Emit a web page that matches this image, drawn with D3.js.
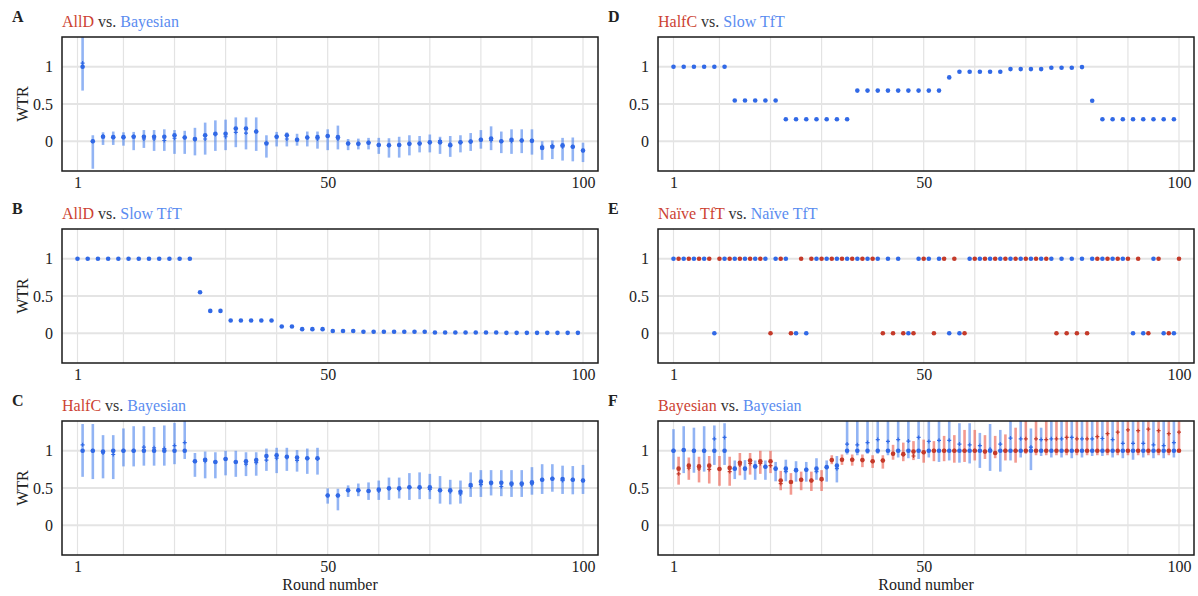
<!DOCTYPE html>
<html>
<head>
<meta charset="utf-8">
<style>
    body { margin: 0; background: #fff; }
    svg text { font-family: "Liberation Serif", "DejaVu Serif", serif; fill: #222; }
</style>
</head>
<body>
<svg id="chart" width="1198" height="596"></svg>
<script src="https://cdn.jsdelivr.net/npm/d3@7/dist/d3.min.js"></script>
<script>
// rounds at which each player is plotted
const oddRounds = [1,3,5,7,9,11,13,15,17,19,21,23,25,27,29,31,33,35,37,39,41,43,45,47,49,
                   51,53,55,57,59,61,63,65,67,69,71,73,75,77,79,81,83,85,87,89,91,93,95,97,99];
const evenRounds = [2,4,6,8,10,12,14,16,18,20,22,24,26,28,30,32,34,36,38,40,42,44,46,48,50,
                    52,54,56,58,60,62,64,66,68,70,72,74,76,78,80,82,84,86,88,90,92,94,96,98,100];

const xTicks = [1, 50, 100];
const xGrid = [1, 10, 20, 30, 40, 50, 60, 70, 80, 90, 100];
const yTicks = [0, 0.5, 1];

// A: AllD vs. Bayesian (Bayesian, even rounds)
const aMid  = [1.0,0.0,0.06,0.055,0.055,0.06,0.06,0.06,0.06,0.08,0.05,0.03,0.08,0.10,0.10,0.17,0.17,0.13,-0.03,0.06,
               0.08,0.02,0.05,0.055,0.07,0.055,-0.03,-0.035,-0.02,-0.05,-0.055,-0.05,-0.035,-0.03,-0.015,-0.015,-0.055,-0.015,-0.005,0.02,
               0.035,0.0,0.02,0.01,0.005,-0.09,-0.075,-0.055,-0.075,-0.125];
const aMean = [1.05,0.0,0.07,0.055,0.055,0.065,0.03,0.03,0.01,0.04,0.05,0.02,0.03,0.09,0.06,0.12,0.11,0.13,-0.02,0.06,
               0.03,0.02,0.05,0.03,0.07,0.03,-0.03,-0.035,-0.02,-0.05,-0.055,-0.05,-0.035,-0.03,-0.015,0.01,-0.04,-0.015,-0.005,0.02,
               0.01,0.0,0.0,0.01,0.005,-0.07,-0.06,-0.075,-0.075,-0.125];
const aLo   = [0.68,-0.37,-0.05,-0.05,-0.06,-0.12,-0.09,-0.13,-0.13,-0.17,-0.17,-0.19,-0.18,-0.13,-0.12,-0.08,-0.11,-0.13,-0.22,-0.07,
               -0.07,-0.06,-0.07,-0.10,-0.12,-0.11,-0.12,-0.11,-0.11,-0.17,-0.22,-0.22,-0.19,-0.15,-0.15,-0.17,-0.21,-0.15,-0.13,-0.10,
               -0.12,-0.16,-0.17,-0.16,-0.18,-0.25,-0.24,-0.26,-0.27,-0.28];
const aHi   = [1.5,0.08,0.12,0.13,0.12,0.125,0.15,0.15,0.16,0.15,0.14,0.18,0.25,0.28,0.29,0.32,0.32,0.32,0.08,0.125,
               0.12,0.10,0.13,0.13,0.16,0.21,0.03,0.035,0.045,0.045,0.04,0.06,0.08,0.07,0.09,0.06,0.07,0.08,0.11,0.15,
               0.20,0.13,0.16,0.16,0.16,0.0,0.01,0.045,0.05,-0.02];

// B: AllD vs. Slow TfT (Slow TfT, odd rounds)
const bMid = [1,1,1,1,1,1,1,1,1,1,1,1,0.55,0.30,0.30,0.17,0.17,0.17,0.17,0.17,
              0.09,0.09,0.055,0.055,0.055,0.03,0.03,0.03,0.02,0.02,0.02,0.02,0.02,0.02,0.02,0.01,0.01,0.01,0.01,0.01,
              0.01,0.01,0.005,0.005,0.005,0.005,0.005,0.005,0.005,0.005];

// C: HalfC vs. Bayesian (Bayesian, even rounds)
const cMid  = [1.0,1.0,0.99,1.0,1.0,1.0,1.0,1.0,1.0,1.0,1.0,0.86,0.88,0.85,0.89,0.85,0.86,0.875,0.93,0.94,
               0.92,0.91,0.90,0.90,0.40,0.40,0.47,0.47,0.46,0.48,0.495,0.495,0.51,0.51,0.51,0.47,0.47,0.45,0.54,0.585,
               0.57,0.57,0.56,0.56,0.575,0.61,0.625,0.62,0.61,0.60];
const cMean = [1.08,1.0,0.97,0.95,1.0,1.0,1.05,1.04,1.03,1.07,1.11,0.86,0.86,0.85,0.89,0.85,0.82,0.84,0.875,0.90,
               0.91,0.87,0.90,0.89,0.40,0.40,0.47,0.47,0.46,0.46,0.495,0.48,0.51,0.50,0.48,0.47,0.45,0.42,0.52,0.545,
               0.56,0.52,0.54,0.54,0.555,0.61,0.625,0.60,0.61,0.60];
const cLo   = [0.65,0.62,0.63,0.62,0.79,0.79,0.80,0.80,0.80,0.82,0.89,0.65,0.63,0.63,0.67,0.65,0.66,0.665,0.73,0.70,
               0.73,0.72,0.69,0.68,0.29,0.20,0.38,0.39,0.34,0.34,0.34,0.36,0.34,0.35,0.35,0.29,0.28,0.29,0.38,0.38,
               0.40,0.39,0.38,0.38,0.41,0.42,0.45,0.42,0.415,0.42];
const cHi   = [1.36,1.36,1.21,1.21,1.30,1.33,1.33,1.32,1.34,1.375,1.45,0.97,0.99,0.98,1.0,1.0,0.98,0.98,1.03,1.04,
               1.04,1.01,1.03,1.04,0.495,0.49,0.535,0.56,0.575,0.60,0.64,0.64,0.70,0.71,0.69,0.66,0.61,0.60,0.71,0.74,
               0.74,0.74,0.74,0.74,0.78,0.82,0.82,0.80,0.795,0.81];

// D: HalfC vs. Slow TfT (Slow TfT, odd rounds)
const dMid = [1,1,1,1,1,1,0.547,0.547,0.547,0.547,0.547,0.296,0.296,0.296,0.296,0.296,0.296,0.296,0.68,0.68,
              0.68,0.68,0.68,0.68,0.68,0.68,0.68,0.857,0.933,0.933,0.933,0.933,0.933,0.969,0.969,0.969,0.969,0.987,0.987,0.987,
              0.996,0.543,0.296,0.296,0.296,0.296,0.296,0.296,0.296,0.296];

// E: Naïve TfT vs. Naïve TfT
const eBlue = [1,1,1,1,0,1,1,1,1,1,1,1,0,0,1,1,1,1,1,1,1,1,1,0,1,1,1,0,0,1,1,1,1,1,1,1,1,1,1,1,1,1,1,1,1,0,0,1,0,0];
const eRed  = [1,1,1,1,1,1,1,1,1,0,1,0,1,1,1,1,1,1,1,1,0,0,0,0,1,0,1,1,0,1,1,1,1,1,1,1,1,0,0,0,0,1,1,1,1,1,0,1,0,1];

// F: Bayesian vs. Bayesian (blue odd rounds, red even rounds)
const fBlueMid  = [1.0,1.01,1.0,1.0,1.0,1.0,0.76,0.76,0.79,0.785,0.76,0.76,0.74,0.745,0.76,0.78,0.80,1,1,1,
                   1,1,1,1,1,1,1,1,1,1,1,1,1,1,1,1,1,1,1,1,1,1,1,1,1,1,1,1,1,1];
const fBlueMean = [1.0,1.01,1.0,1.0,1.16,1.18,0.76,0.76,0.79,0.785,0.76,0.72,0.74,0.745,0.72,0.78,0.76,1.09,1.08,1.11,
                   1.15,1.125,1.15,1.13,1.18,1.125,1.14,1.14,1.09,1.08,1.07,1.02,1.09,1.17,1.16,1.05,1.15,1.16,1.16,1.18,
                   1.16,1.16,1.165,1.15,1.10,1.10,1.10,1.08,1.07,1.11];
const fBlueLo   = [0.75,0.70,0.705,0.72,0.81,0.81,0.62,0.61,0.61,0.61,0.59,0.59,0.585,0.585,0.61,0.585,0.575,0.95,0.94,0.96,
                   0.96,0.94,0.91,0.90,0.89,0.91,0.85,0.87,0.84,0.83,0.77,0.73,0.72,0.87,0.91,0.74,0.93,0.91,0.91,0.90,
                   0.91,0.93,0.93,0.91,0.90,0.88,0.91,0.90,0.90,0.91];
const fBlueHi   = [1.29,1.33,1.31,1.33,1.34,1.37,0.87,0.875,0.87,0.87,0.85,0.88,0.86,0.85,0.90,0.87,0.93,1.5,1.5,1.5,
                   1.5,1.5,1.5,1.5,1.5,1.5,1.5,1.5,1.37,1.37,1.24,1.36,1.28,1.5,1.5,1.30,1.31,1.5,1.5,1.5,
                   1.5,1.5,1.5,1.5,1.5,1.5,1.5,1.5,1.5,1.5];
const fRedMid   = [0.76,0.80,0.79,0.80,0.755,0.77,0.84,0.87,0.86,0.86,0.60,0.58,0.61,0.60,0.62,0.875,0.88,0.88,0.875,0.86,
                   0.87,0.96,0.955,0.99,0.98,1.0,1.0,1.0,1.0,1.0,0.99,0.97,1,1,1,1,1,1,1,1,1,1,1,1,1,1,1,1,1,1];
const fRedMean  = [0.69,0.765,0.755,0.75,0.755,0.72,0.81,0.83,0.83,0.80,0.56,0.58,0.61,0.60,0.61,0.875,0.88,0.88,0.875,0.86,
                   0.87,0.96,0.95,0.93,0.98,1.0,1.0,1.0,1.0,1.0,0.99,0.97,1.0,1.0,1.16,1.16,1.15,1.16,1.18,1.16,
                   1.16,1.19,1.23,1.25,1.28,1.27,1.29,1.27,1.23,1.25];
const fRedLo    = [0.545,0.61,0.575,0.56,0.53,0.53,0.67,0.68,0.69,0.70,0.47,0.41,0.47,0.46,0.46,0.82,0.81,0.80,0.78,0.77,
                   0.76,0.88,0.86,0.875,0.84,0.86,0.86,0.84,0.85,0.87,0.89,0.90,0.87,0.84,0.96,0.94,0.94,0.94,0.94,0.94,
                   0.94,0.94,0.94,0.94,0.94,0.94,0.94,0.94,0.94,1.0];
const fRedHi    = [0.92,0.91,0.92,0.93,0.93,0.92,0.97,0.97,1.0,1.0,0.73,0.70,0.72,0.72,0.74,0.94,0.95,0.95,0.95,0.94,
                   0.94,1.08,1.11,1.13,1.15,1.13,1.20,1.21,1.28,1.28,1.21,1.20,1.22,1.31,1.5,1.5,1.5,1.5,1.5,1.5,
                   1.5,1.5,1.5,1.5,1.5,1.5,1.5,1.5,1.5,1.5];

const red = "#c43a2a", blue = "#3169e6";
const redBar = "#ec5c4c", blueBar = "#4f86ee";
const redTitle = "#cc4232", blueTitle = "#5a8cf0";

const colX = [62, 658], rowY = [37, 229, 421];
const pw = 536, ph = 134;

const svg = d3.select("#chart");

function rows(rounds, mid, mean, lo, hi) {
    return rounds.map((r, i) => ({r: r, mid: mid[i], mean: mean ? mean[i] : null,
                                  lo: lo ? lo[i] : null, hi: hi ? hi[i] : null}));
}

function drawPanel(p) {
    const left = colX[p.col], top = rowY[p.row];
    const x = d3.scaleLinear().domain([1, 100]).range([left + 15.5, left + pw - 15]);
    const y = d3.scaleLinear().domain([-0.4, 1.4]).range([top + ph, top]);
    const g = svg.append("g");
    const clipId = "clip" + p.letter;

    g.append("clipPath").attr("id", clipId)
        .append("rect").attr("x", left).attr("y", top).attr("width", pw).attr("height", ph);

    // grid
    g.append("g").selectAll("line").data(xGrid).join("line")
        .attr("x1", d => x(d)).attr("x2", d => x(d))
        .attr("y1", top).attr("y2", top + ph)
        .attr("stroke", "#e3e3e3").attr("stroke-width", 1.2);
    g.append("g").selectAll("line").data(yTicks).join("line")
        .attr("x1", left).attr("x2", left + pw)
        .attr("y1", d => y(d)).attr("y2", d => y(d))
        .attr("stroke", "#e4e4e4").attr("stroke-width", 2);

    const marks = g.append("g").attr("clip-path", `url(#${clipId})`);
    p.series.forEach(s => {
        if (s.data[0].lo !== null) {
            marks.append("g").selectAll("line").data(s.data).join("line")
                .attr("x1", d => x(d.r)).attr("x2", d => x(d.r))
                .attr("y1", d => y(d.lo)).attr("y2", d => y(d.hi))
                .attr("stroke", s.bar).attr("stroke-opacity", 0.62).attr("stroke-width", 2.6);
        }
    });
    p.series.forEach(s => {
        marks.append("g").selectAll("circle").data(s.data).join("circle")
            .attr("cx", d => x(d.r)).attr("cy", d => y(d.mid)).attr("r", 2.3)
            .attr("fill", s.color);
        if (s.data[0].mean !== null) {
            marks.append("g").selectAll("path").data(s.data).join("path")
                .attr("d", d => `M${x(d.r) - 2},${y(d.mean)}h4M${x(d.r)},${y(d.mean) - 2}v4`)
                .attr("stroke", s.color).attr("stroke-width", 1.2);
        }
    });

    // axes
    const xa = g.append("g").attr("transform", `translate(0,${top + ph})`)
        .call(d3.axisBottom(x).tickValues(xTicks).tickSize(0).tickPadding(6).tickFormat(d3.format("d")));
    const ya = g.append("g").attr("transform", `translate(${left},0)`)
        .call(d3.axisLeft(y).tickValues(yTicks).tickSize(0).tickPadding(9).tickFormat(d => d === 0.5 ? "0.5" : d3.format("d")(d)));
    [xa, ya].forEach(a => {
        a.select(".domain").remove();
        a.attr("font-family", null).attr("font-size", null);
        a.selectAll("text").style("font-size", "16px").attr("fill", "#222");
    });

    g.append("rect").attr("x", left).attr("y", top).attr("width", pw).attr("height", ph)
        .attr("fill", "none").attr("stroke", "#1a1a1a").attr("stroke-width", 1.5);

    // titles
    g.append("text").attr("x", left - 50).attr("y", top - 15)
        .style("font-size", "16px").style("font-weight", "bold").text(p.letter);
    const t = g.append("text").attr("x", left).attr("y", top - 10).style("font-size", "16px");
    t.append("tspan").style("fill", redTitle).text(p.title[0]);
    t.append("tspan").style("fill", "#333").text(" vs. ");
    t.append("tspan").style("fill", blueTitle).text(p.title[1]);

    if (p.col === 0) {
        g.append("text").attr("transform", `translate(27.5,${top + ph / 2}) rotate(-90)`)
            .attr("text-anchor", "middle").style("font-size", "16px").text("WTR");
    }
    if (p.row === 2) {
        g.append("text").attr("x", left + pw / 2).attr("y", 590)
            .attr("text-anchor", "middle").style("font-size", "16px").text("Round number");
    }
}

drawPanel({letter: "A", col: 0, row: 0, title: ["AllD", "Bayesian"],
    series: [{data: rows(evenRounds, aMid, aMean, aLo, aHi), color: blue, bar: blueBar}]});
drawPanel({letter: "B", col: 0, row: 1, title: ["AllD", "Slow TfT"],
    series: [{data: rows(oddRounds, bMid), color: blue, bar: blueBar}]});
drawPanel({letter: "C", col: 0, row: 2, title: ["HalfC", "Bayesian"],
    series: [{data: rows(evenRounds, cMid, cMean, cLo, cHi), color: blue, bar: blueBar}]});
drawPanel({letter: "D", col: 1, row: 0, title: ["HalfC", "Slow TfT"],
    series: [{data: rows(oddRounds, dMid), color: blue, bar: blueBar}]});
drawPanel({letter: "E", col: 1, row: 1, title: ["Naïve TfT", "Naïve TfT"],
    series: [{data: rows(oddRounds, eBlue), color: blue, bar: blueBar},
             {data: rows(evenRounds, eRed), color: red, bar: redBar}]});
drawPanel({letter: "F", col: 1, row: 2, title: ["Bayesian", "Bayesian"],
    series: [{data: rows(oddRounds, fBlueMid, fBlueMean, fBlueLo, fBlueHi), color: blue, bar: blueBar},
             {data: rows(evenRounds, fRedMid, fRedMean, fRedLo, fRedHi), color: red, bar: redBar}]});
</script>
</body>
</html>
